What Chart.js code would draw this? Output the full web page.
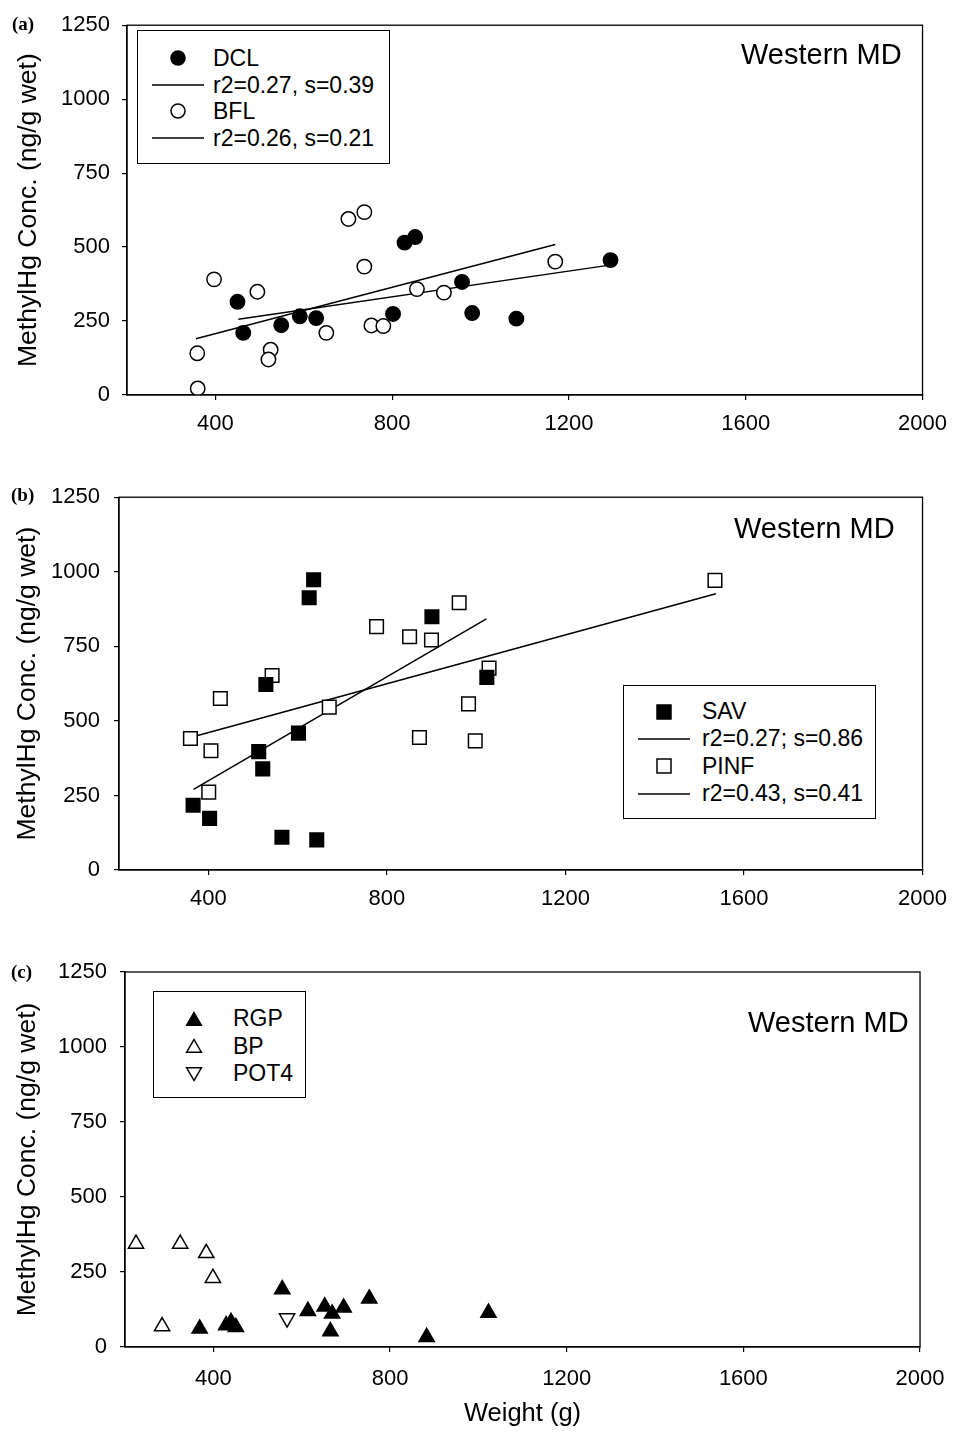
<!DOCTYPE html>
<html>
<head>
<meta charset="utf-8">
<script src="https://cdn.jsdelivr.net/npm/chart.js@4.4.1/dist/chart.umd.min.js"></script>
<style>
html,body{margin:0;padding:0;background:#fff;}
#page{position:relative;width:958px;height:1434px;overflow:hidden;font-family:"Liberation Sans",Arial,Helvetica,sans-serif;color:#000;background:#fff;}
.panel{position:absolute;left:0;width:958px;}
.panel canvas{position:absolute;left:0;top:0;}
.plabel{position:absolute;font-family:"Liberation Serif","Times New Roman",serif;font-weight:bold;font-size:19px;line-height:19px;white-space:nowrap;}
.site{position:absolute;font-size:29px;line-height:29px;white-space:nowrap;}
.legend{position:absolute;border:1.3px solid #000;background:#fff;box-sizing:border-box;}
.legend .row{position:absolute;left:0;right:0;}
.legend .mk{position:absolute;top:0;height:100%;display:flex;align-items:center;justify-content:center;}
.legend .txt{position:absolute;top:0;font-size:23px;white-space:nowrap;}
</style>
</head>
<body>
<div id="page">
  <div class="panel" style="top:0;height:470px;"><canvas id="cA" width="958" height="470"></canvas></div>
  <div class="panel" style="top:470px;height:470px;"><canvas id="cB" width="958" height="470"></canvas></div>
  <div class="panel" style="top:940px;height:494px;"><canvas id="cC" width="958" height="494"></canvas></div>

  <div class="plabel" style="left:12px;top:14px;">(a)</div>
  <div class="plabel" style="left:11px;top:485px;">(b)</div>
  <div class="plabel" style="left:11px;top:962px;">(c)</div>

  <div class="site" style="left:741px;top:40px;">Western MD</div>
  <div class="site" style="left:734px;top:514px;">Western MD</div>
  <div class="site" style="left:748px;top:1008px;">Western MD</div>

  <div class="legend" id="legA" style="left:137px;top:30px;width:253px;height:134px;"></div>
  <div class="legend" id="legB" style="left:623px;top:685px;width:253px;height:134px;"></div>
  <div class="legend" id="legC" style="left:153px;top:991px;width:153px;height:107px;"></div>
</div>

<script>
// ---------- data ----------
const xTickValues = [400, 800, 1200, 1600, 2000];
const yTickStep = 250;
const yAxisTitle = 'MethylHg Conc. (ng/g wet)';
const xAxisTitle = 'Weight (g)';

// Panel (a)
const dclWeight = [450, 463, 549, 591, 628, 802, 828, 852, 958, 981, 1081, 1294];
const dclConc   = [315, 210, 236, 266, 260, 274, 515, 534, 382, 277, 258, 456];
const dclFitWeight = [452, 1292];
const dclFitConc   = [256, 439];
const bflWeight = [359, 360, 397, 495, 525, 520, 651, 701, 737, 737, 753, 780, 856, 917, 1169];
const bflConc   = [141, 22, 391, 349, 153, 120, 210, 595, 618, 434, 235, 233, 358, 346, 451];
const bflFitWeight = [356, 1169];
const bflFitConc   = [190, 509];

// Panel (b)
const savWeight = [366, 403, 513, 522, 529, 565, 602, 626, 636, 643, 901, 1024];
const savConc   = [217, 173, 397, 339, 622, 110, 459, 913, 973, 101, 849, 646];
const savFitWeight = [367, 1023];
const savFitConc   = [270, 842];
const pinfWeight = [360, 406, 401, 427, 543, 671, 777, 851, 900, 873, 962, 983, 998, 1029, 1535];
const pinfConc   = [441, 400, 261, 575, 652, 546, 816, 782, 771, 444, 896, 557, 433, 677, 971];
const pinfFitWeight = [360, 1537];
const pinfFitConc   = [444, 926];

// Panel (c)
const rgpWeight = [369, 429, 440, 451, 556, 614, 652, 669, 665, 695, 753, 883, 1023];
const rgpConc   = [61, 72, 83, 66, 192, 120, 135, 111, 52, 131, 161, 33, 114];
const bpWeight  = [225, 325, 384, 399, 284];
const bpConc    = [344, 344, 313, 230, 69];
const pot4Weight = [567];
const pot4Conc   = [96];

// ---------- helpers ----------
const FONT = '"Liberation Sans", Arial, Helvetica, sans-serif';
function pts(xs, ys) { return xs.map((x, i) => ({x: x, y: ys[i]})); }

function scatterSet(label, xs, ys, style, filled, radius, rotation) {
  return {
    label: label, data: pts(xs, ys), order: 0,
    pointStyle: style, pointRadius: radius, pointRotation: rotation || 0,
    pointBackgroundColor: filled ? '#000' : '#fff', backgroundColor: filled ? '#000' : '#fff',
    pointBorderColor: '#000', borderColor: '#000', pointBorderWidth: 1.5, borderWidth: 1.5,
    showLine: false
  };
}
function fitSet(label, xs, ys) {
  return {
    label: label, data: pts(xs, ys), order: 1, showLine: true,
    borderColor: '#000', borderWidth: 1.5, pointRadius: 0, fill: false, tension: 0
  };
}

const framePlugin = {
  id: 'frame',
  afterDraw(chart) {
    const a = chart.chartArea, ctx = chart.ctx;
    ctx.save();
    ctx.strokeStyle = '#000';
    ctx.lineWidth = 1.3;
    ctx.strokeRect(a.left, a.top, a.right - a.left, a.bottom - a.top);
    ctx.restore();
  }
};

function makeChart(id, datasets, g) {
  const numFmt = v => String(v);
  return new Chart(document.getElementById(id), {
    type: 'scatter',
    data: {datasets: datasets},
    plugins: [framePlugin],
    options: {
      responsive: false, animation: false, events: [], devicePixelRatio: 1,
      layout: {padding: {top: g.padTop, right: g.padRight, left: 0, bottom: 0}},
      plugins: {legend: {display: false}, tooltip: {enabled: false}},
      scales: {
        x: {
          type: 'linear', min: 200, max: 2000,
          afterBuildTicks: ax => { ax.ticks = xTickValues.map(v => ({value: v})); },
          afterFit: s => { s.height = g.xHeight; },
          grid: {display: true, drawOnChartArea: false, drawTicks: true, tickLength: 5, color: '#000', lineWidth: 1.2},
          border: {display: true, color: '#000', width: 1.3},
          ticks: {color: '#000', font: {family: FONT, size: 22}, padding: g.xTickPad, maxRotation: 0, autoSkip: false, callback: numFmt},
          title: g.xTitle ? {display: true, text: xAxisTitle, color: '#000', font: {family: FONT, size: 25.5}, padding: {top: 0, bottom: g.xTitlePad}} : {display: false}
        },
        y: {
          type: 'linear', min: 0, max: 1250,
          afterFit: s => { s.width = g.yWidth; },
          grid: {display: true, drawOnChartArea: false, drawTicks: true, tickLength: 5, color: '#000', lineWidth: 1.2},
          border: {display: true, color: '#000', width: 1.3},
          ticks: {stepSize: yTickStep, color: '#000', font: {family: FONT, size: 22}, padding: g.yTickPad, callback: numFmt},
          title: {display: true, text: yAxisTitle, color: '#000', font: {family: FONT, size: 26.5}, padding: {top: g.yTitlePad, bottom: 0}}
        }
      }
    }
  });
}

function markerSVG(ds) {
  if (ds.showLine) {
    return '<svg width="54" height="6"><line x1="1" y1="3" x2="53" y2="3" stroke="#000" stroke-width="1.5"/></svg>';
  }
  const fill = ds.pointBackgroundColor;
  const sw = 1.5;
  if (ds.pointStyle === 'circle') {
    return '<svg width="20" height="20"><circle cx="10" cy="10" r="7" fill="' + fill + '" stroke="#000" stroke-width="' + sw + '"/></svg>';
  }
  if (ds.pointStyle === 'rect') {
    return '<svg width="20" height="20"><rect x="3" y="3" width="14" height="14" fill="' + fill + '" stroke="#000" stroke-width="' + sw + '"/></svg>';
  }
  // triangle (optionally rotated)
  const r = 8.5, cx = 10, cy = 10;
  const rot = (ds.pointRotation || 0) * Math.PI / 180;
  const p = [0, 1, 2].map(k => {
    const a = rot + k * 2 * Math.PI / 3;
    return (cx + Math.sin(a) * r).toFixed(2) + ',' + (cy - Math.cos(a) * r + (ds.pointRotation ? -2 : 2)).toFixed(2);
  }).join(' ');
  return '<svg width="20" height="20"><polygon points="' + p + '" fill="' + fill + '" stroke="#000" stroke-width="' + sw + '"/></svg>';
}

function buildLegend(chart, boxId, L) {
  const box = document.getElementById(boxId);
  chart.data.datasets.forEach((ds, i) => {
    const row = document.createElement('div');
    row.className = 'row';
    row.style.top = (L.padTop + i * L.rowH) + 'px';
    row.style.height = L.rowH + 'px';
    const mk = document.createElement('div');
    mk.className = 'mk';
    mk.style.left = (L.markX - 30) + 'px';
    mk.style.width = '60px';
    mk.innerHTML = markerSVG(ds);
    const tx = document.createElement('div');
    tx.className = 'txt';
    tx.style.left = L.textX + 'px';
    tx.style.lineHeight = L.rowH + 'px';
    tx.textContent = ds.label;
    row.appendChild(mk);
    row.appendChild(tx);
    box.appendChild(row);
  });
}

// ---------- panel (a) ----------
const chartA = makeChart('cA', [
  scatterSet('DCL', dclWeight, dclConc, 'circle', true, 7.2),
  fitSet('r2=0.27, s=0.39', dclFitWeight, dclFitConc),
  scatterSet('BFL', bflWeight, bflConc, 'circle', false, 7.2),
  fitSet('r2=0.26, s=0.21', bflFitWeight, bflFitConc)
], {padTop: 19, padRight: 25, yWidth: 127, xHeight: 75, yTickPad: 12, xTickPad: 11, yTitlePad: 13, xTitle: false});
buildLegend(chartA, 'legA', {padTop: 14, rowH: 26.5, markX: 40, textX: 75});

// ---------- panel (b) ----------
const chartB = makeChart('cB', [
  scatterSet('SAV', savWeight, savConc, 'rect', true, 9.6),
  fitSet('r2=0.27; s=0.86', savFitWeight, savFitConc),
  scatterSet('PINF', pinfWeight, pinfConc, 'rect', false, 9.6),
  fitSet('r2=0.43, s=0.41', pinfFitWeight, pinfFitConc)
], {padTop: 24, padRight: 32, yWidth: 119, xHeight: 70, yTickPad: 14, xTickPad: 11, yTitlePad: 11.5, xTitle: false});
buildLegend(chartB, 'legB', {padTop: 12, rowH: 27.3, markX: 39.5, textX: 78});

// ---------- panel (c) ----------
const chartC = makeChart('cC', [
  scatterSet('RGP', rgpWeight, rgpConc, 'triangle', true, 8.8),
  scatterSet('BP', bpWeight, bpConc, 'triangle', false, 8.8),
  scatterSet('POT4', pot4Weight, pot4Conc, 'triangle', false, 8.8, 180)
], {padTop: 32, padRight: 26, yWidth: 125, xHeight: 87, yTickPad: 13, xTickPad: 13.5, yTitlePad: 11.5, xTitle: true, xTitlePad: 4.5});
buildLegend(chartC, 'legC', {padTop: 13, rowH: 27.5, markX: 40, textX: 79});
</script>
</body>
</html>
